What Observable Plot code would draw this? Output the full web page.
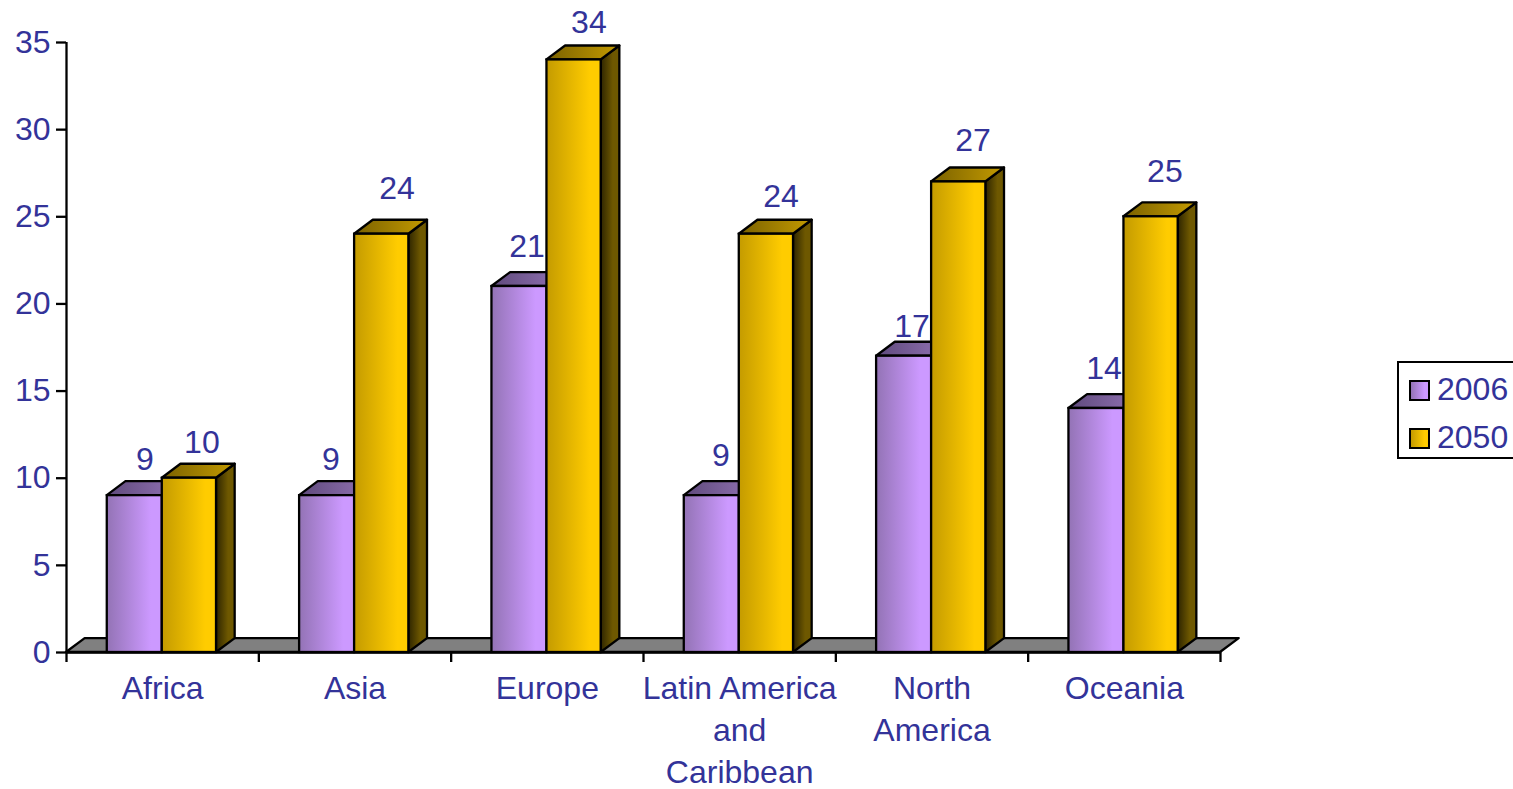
<!DOCTYPE html>
<html>
<head>
<meta charset="utf-8">
<script src="https://cdn.jsdelivr.net/npm/d3@7"></script>
<script src="https://cdn.jsdelivr.net/npm/@observablehq/plot@0.6"></script>
<style>
  html, body { margin: 0; padding: 0; background: #fff; overflow: hidden; }
  #chart { position: relative; width: 1513px; height: 789px; overflow: hidden; font-family: "Liberation Sans", Arial, sans-serif; }
  #chart svg { display: block; }
  .legend { position: absolute; left: 1397px; top: 361px; width: 130px; height: 94px; border: 2px solid #000; box-sizing: content-box; background: #fff; }
  .legend div { position: absolute; left: 38px; font-size: 32px; line-height: 36px; color: #333399; }
  .legend i { position: absolute; left: 10px; width: 17px; height: 17px; border: 2.3px solid #000; }
</style>
</head>
<body>
<div id="chart"></div>
<script>
const categories = ["Africa", "Asia", "Europe", "Latin America\nand\nCaribbean", "North\nAmerica", "Oceania"];
const years = ["2006", "2050"];
const values2006 = [9, 9, 21, 9, 17, 14];
const values2050 = [10, 24, 34, 24, 27, 25];
const yTicks = [0, 5, 10, 15, 20, 25, 30, 35];

// Geometry of the pseudo-3D bars and label placement, in scale units
const depthX = 0.097;
const depthY = 0.80;
const line = 2.3;
const slots = [
  {year: "2006", values: values2006, x1: 0.212, x2: 0.498,
   labelX: [0.408, 0.375, 0.394, 0.403, 0.396, 0.394], lift: [2.07, 2.07, 2.3, 2.3, 1.7, 2.3]},
  {year: "2050", values: values2050, x1: 0.498, x2: 0.78,
   labelX: [0.704, 0.718, 0.716, 0.715, 0.713, 0.711], lift: [2.02, 2.58, 2.14, 2.16, 2.37, 2.56]}
];

const bars = slots.flatMap(s => s.values.map((v, i) => ({
  year: s.year, value: v, x1: i + s.x1, x2: i + s.x2,
  labelX: i + s.labelX[i], labelY: v + s.lift[i]
})));

const sidePoints = b => [
  {key: b.year + b.x2, year: b.year, x: b.x2, y1: 0, y2: b.value},
  {key: b.year + b.x2, year: b.year, x: b.x2 + depthX, y1: depthY, y2: b.value + depthY}
];
const topPoints = b => [
  {key: b.year + b.x1, year: b.year, y: b.value, x1: b.x1, x2: b.x2},
  {key: b.year + b.x1, year: b.year, y: b.value + depthY, x1: b.x1 + depthX, x2: b.x2 + depthX}
];
const floor = [
  {y: 0, x1: 0, x2: categories.length},
  {y: depthY, x1: depthX, x2: categories.length + depthX}
];

const palette = {
  front: {"2006": "url(#front2006)", "2050": "url(#front2050)"},
  top: {"2006": "url(#top2006)", "2050": "url(#top2050)"},
  side: {"2006": "url(#side2006)", "2050": "url(#side2050)"}
};
const gradients = [
  ["front2006", "#9373b5", "#cc99ff", 0.8],
  ["front2050", "#c49b00", "#ffcc00", 0.8],
  ["top2006", "#5f4a7c", "#9373b5", 1],
  ["top2050", "#7a6100", "#c49b00", 1],
  ["side2006", "#332640", "#66507f", 0.7],
  ["side2050", "#2e2500", "#6e5800", 0.65]
];
const defs = () => {
  const d = d3.create("svg:defs");
  for (const [id, a, b, stop] of gradients) {
    const g = d.append("linearGradient").attr("id", id);
    g.append("stop").attr("offset", 0).attr("stop-color", a);
    g.append("stop").attr("offset", stop).attr("stop-color", b);
  }
  return d.node();
};

const ink = "#333399";
const fontSize = 32;
const faces = year => {
  const sub = bars.filter(b => b.year === year);
  return [
    Plot.areaY(sub.flatMap(sidePoints), {x: "x", y1: "y1", y2: "y2", z: "key", fill: palette.side[year], stroke: "#000", strokeWidth: line, strokeLinejoin: "round"}),
    Plot.areaX(sub.flatMap(topPoints), {y: "y", x1: "x1", x2: "x2", z: "key", fill: palette.top[year], stroke: "#000", strokeWidth: line, strokeLinejoin: "round"}),
    Plot.rect(sub, {x1: "x1", x2: "x2", y1: 0, y2: "value", fill: palette.front[year], stroke: "#000", strokeWidth: line})
  ];
};

const plot = Plot.plot({
  width: 1513,
  height: 789,
  marginLeft: 66,
  marginRight: 293,
  marginTop: 42,
  marginBottom: 137,
  x: {domain: [0, categories.length]},
  y: {domain: [0, 35]},
  style: {fontFamily: "'Liberation Sans', Arial, sans-serif", background: "#fff", overflow: "visible"},
  marks: [
    defs,
    Plot.areaX(floor, {y: "y", x1: "x1", x2: "x2", fill: "#808080", stroke: "#000", strokeWidth: line, strokeLinejoin: "round"}),
    Plot.ruleX([0], {y1: 0, y2: 35, stroke: "#000", strokeWidth: line}),
    Plot.ruleY([0], {x1: 0, x2: categories.length, stroke: "#000", strokeWidth: line}),
    Plot.axisY({ticks: yTicks, tickSize: 10, tickPadding: 6, fontSize, stroke: "#000", fill: ink, strokeWidth: line, label: null, tickFormat: d => String(d)}),
    Plot.axisX({ticks: d3.range(categories.length + 1), tickSize: 10, stroke: "#000", strokeWidth: line, label: null, tickFormat: () => ""}),
    Plot.axisX({ticks: categories.map((_, i) => i + 0.5), tickSize: 0, tickPadding: 17, fontSize, lineHeight: 1.313, fill: ink, label: null, tickFormat: d => categories[Math.floor(d)]}),
    ...faces("2006"),
    ...faces("2050"),
    Plot.text(bars, {x: "labelX", y: "labelY", text: d => String(d.value), fontSize, fill: ink, textAnchor: "middle", lineAnchor: "middle"})
  ]
});

const chart = document.getElementById("chart");
chart.appendChild(plot);

const legend = document.createElement("div");
legend.className = "legend";
const swatches = {"2006": "linear-gradient(to right,#9373b5,#cc99ff 80%)", "2050": "linear-gradient(to right,#c49b00,#ffcc00 80%)"};
years.forEach((y, i) => {
  const s = document.createElement("i");
  s.style.top = (17 + i * 48) + "px";
  s.style.background = swatches[y];
  const t = document.createElement("div");
  t.textContent = y;
  t.style.top = (8 + i * 48) + "px";
  legend.append(s, t);
});
chart.appendChild(legend);
</script>
</body>
</html>
